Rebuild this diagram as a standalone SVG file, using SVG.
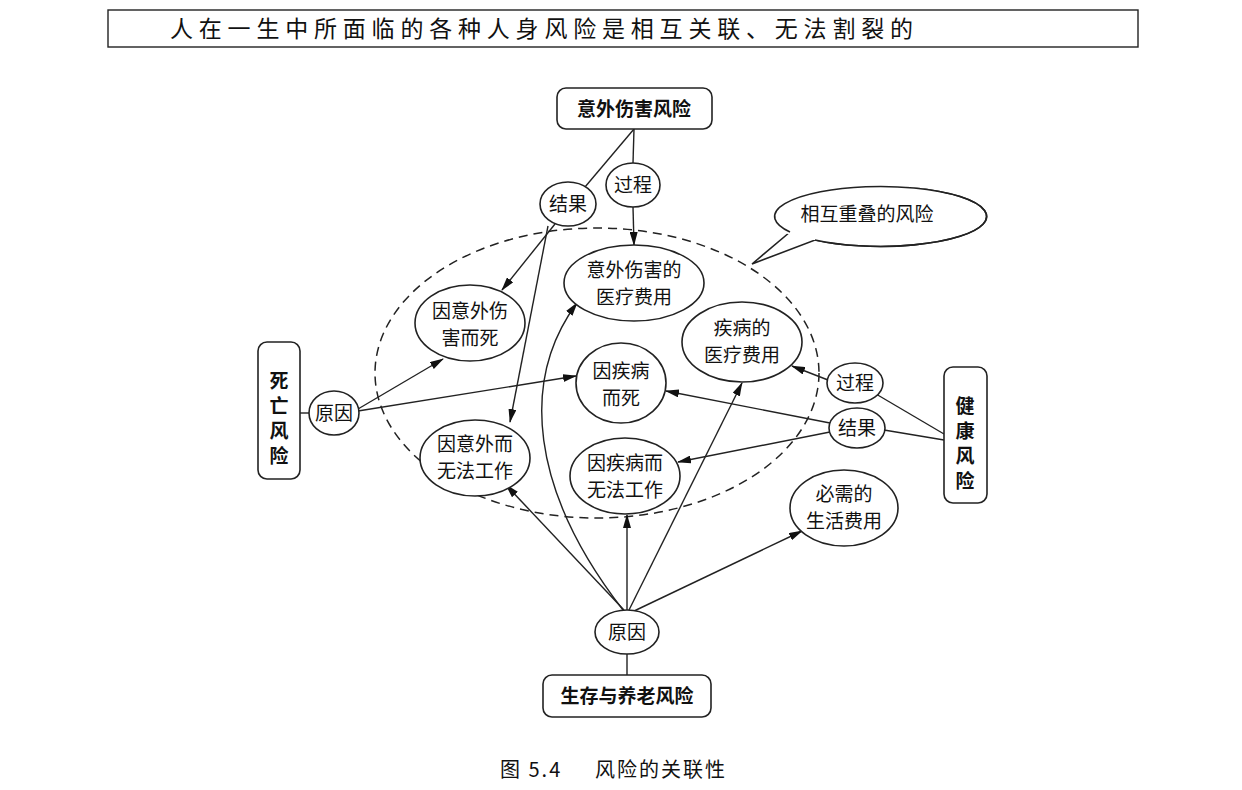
<svg xmlns="http://www.w3.org/2000/svg" width="1242" height="790" viewBox="0 0 1242 790">
<style>
text{font-family:"Noto Sans CJK SC","Liberation Serif",serif;fill:#111;text-anchor:middle}
.n{fill:#fff;stroke:#222;stroke-width:1.6}
.t{font-size:19px}
.b{font-size:19px;font-weight:bold}
.c line,.c path{stroke:#222;stroke-width:1.4;fill:none}
.a{marker-end:url(#ar)}
</style>
<defs><marker id="ar" markerWidth="14" markerHeight="8" refX="13" refY="4" orient="auto" markerUnits="userSpaceOnUse"><path d="M0,0L14,4L0,8z" fill="#111"/></marker></defs>
<rect width="1242" height="790" fill="#fff"/>
<g id="title"><rect x="108" y="10" width="1030" height="37" fill="none" stroke="#222" stroke-width="1.4"/>
<text x="170" y="37" style="font-size:23px;letter-spacing:5.8px;text-anchor:start">人在一生中所面临的各种人身风险是相互关联、无法割裂的</text></g>
<g id="overlap"><ellipse cx="597" cy="373" rx="222" ry="145" fill="none" stroke="#222" stroke-width="1.5" stroke-dasharray="9,6"/></g>
<g class="c">
<line x1="634" y1="129" x2="585" y2="187"/>
<line x1="634" y1="129" x2="633" y2="163"/>
<line class="a" x1="633" y1="207" x2="634" y2="245"/>
<line class="a" x1="555" y1="224" x2="502" y2="290"/>
<line class="a" x1="548" y1="226" x2="510" y2="422"/>
<line x1="300" y1="413" x2="309" y2="413"/>
<line class="a" x1="358" y1="409" x2="443" y2="359"/>
<line class="a" x1="358" y1="411" x2="576" y2="376"/>
<line x1="944" y1="434" x2="876" y2="394"/>
<line x1="944" y1="440" x2="884" y2="430"/>
<line class="a" x1="828" y1="380" x2="792" y2="366"/>
<line class="a" x1="830" y1="423" x2="666" y2="391"/>
<line class="a" x1="830" y1="432" x2="678" y2="462"/>
<line class="a" x1="624" y1="610" x2="506" y2="485"/>
<path class="a" d="M623,610 C530,490 520,380 577,303"/>
<line class="a" x1="627" y1="610" x2="627" y2="515"/>
<line class="a" x1="629" y1="610" x2="742" y2="383"/>
<line class="a" x1="632" y1="612" x2="802" y2="531"/>
<line x1="627" y1="654" x2="627" y2="675"/>
</g>
<g id="accident"><rect class="n" x="557" y="88" width="155" height="41" rx="9"/><text class="b" x="634" y="116">意外伤害风险</text></g>
<g id="acc-result"><ellipse class="n" cx="568" cy="204" rx="28" ry="22"/><text class="t" x="568" y="211">结果</text></g>
<g id="acc-process"><ellipse class="n" cx="633" cy="185" rx="27" ry="22"/><text class="t" x="633" y="192">过程</text></g>
<g id="callout"><path class="n" d="M790,232 L752,264 L815,240 A106,30 0 1 0 790,232 Z"/><ellipse cx="867" cy="214" rx="106" ry="30" fill="#fff"/><path d="M790,232 A106,30 0 1 1 815,240" fill="none" stroke="#222" stroke-width="1.6"/><text class="t" x="867" y="221">相互重叠的风险</text></g>
<g id="acc-med"><ellipse class="n" cx="634" cy="283" rx="70" ry="38"/><text class="t" x="634" y="277">意外伤害的</text><text class="t" x="634" y="304">医疗费用</text></g>
<g id="acc-death"><ellipse class="n" cx="470" cy="323" rx="55" ry="38"/><text class="t" x="470" y="318">因意外伤</text><text class="t" x="470" y="345">害而死</text></g>
<g id="ill-med"><ellipse class="n" cx="742" cy="342" rx="60" ry="40"/><text class="t" x="742" y="335">疾病的</text><text class="t" x="742" y="362">医疗费用</text></g>
<g id="ill-death"><ellipse class="n" cx="621" cy="383" rx="45" ry="40"/><text class="t" x="621" y="378">因疾病</text><text class="t" x="621" y="405">而死</text></g>
<g id="acc-work"><ellipse class="n" cx="475" cy="458" rx="55" ry="38"/><text class="t" x="475" y="451">因意外而</text><text class="t" x="475" y="478">无法工作</text></g>
<g id="ill-work"><ellipse class="n" cx="625" cy="476" rx="55" ry="38"/><text class="t" x="625" y="470">因疾病而</text><text class="t" x="625" y="497">无法工作</text></g>
<g id="living"><ellipse class="n" cx="844" cy="508" rx="54" ry="38"/><text class="t" x="844" y="501">必需的</text><text class="t" x="844" y="528">生活费用</text></g>
<g id="death"><rect class="n" x="258" y="342" width="42" height="137" rx="9"/><text class="b" x="279" y="388">死</text><text class="b" x="279" y="413">亡</text><text class="b" x="279" y="438">风</text><text class="b" x="279" y="463">险</text></g>
<g id="death-cause"><ellipse class="n" cx="334" cy="413" rx="25" ry="22"/><text class="t" x="334" y="420">原因</text></g>
<g id="health"><rect class="n" x="944" y="367" width="43" height="136" rx="9"/><text class="b" x="965" y="413">健</text><text class="b" x="965" y="438">康</text><text class="b" x="965" y="463">风</text><text class="b" x="965" y="488">险</text></g>
<g id="hl-process"><ellipse class="n" cx="855" cy="383" rx="28" ry="20"/><text class="t" x="855" y="390">过程</text></g>
<g id="hl-result"><ellipse class="n" cx="857" cy="428" rx="28" ry="20"/><text class="t" x="857" y="435">结果</text></g>
<g id="surv-cause"><ellipse class="n" cx="627" cy="632" rx="32" ry="22"/><text class="t" x="627" y="639">原因</text></g>
<g id="survival"><rect class="n" x="543" y="675" width="168" height="42" rx="9"/><text class="b" x="627" y="703">生存与养老风险</text></g>
<text x="500" y="777" style="font-size:20px;text-anchor:start;letter-spacing:2px">图 5.4</text>
<text x="595" y="777" style="font-size:20px;text-anchor:start;letter-spacing:2px">风险的关联性</text>
</svg>
